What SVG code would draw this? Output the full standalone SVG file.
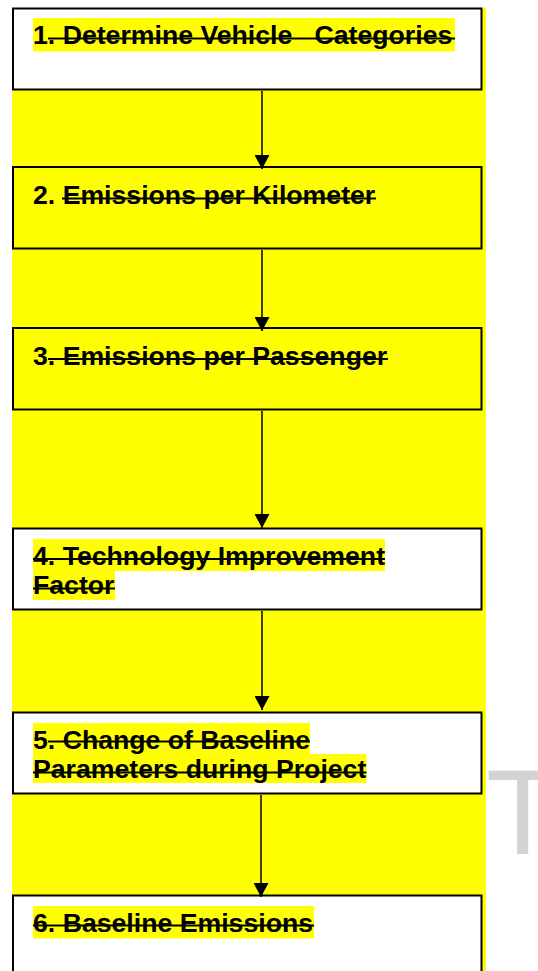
<svg xmlns="http://www.w3.org/2000/svg" width="538" height="971" viewBox="0 0 538 971">
<style>
.box{stroke:#000;stroke-width:2}
.w{fill:#fff}
.y{fill:#ffff00}
.hl{fill:#ffff00}
.t{font-family:"Liberation Sans",Arial,sans-serif;font-weight:bold;font-size:26.67px;fill:#000;white-space:pre}
.st{stroke:#000;stroke-width:2}
.c{stroke:#000;stroke-width:1.5;fill:none;marker-end:url(#ah)}
.wm{font-family:"Liberation Sans",Arial,sans-serif;font-size:120px;fill:#d3d3d3}
</style>
<defs>
<marker id="ah" markerUnits="userSpaceOnUse" markerWidth="14" markerHeight="15" viewBox="0 0 14 15" refX="14" refY="7.5" orient="auto">
<path d="M0,0 L14,7.5 L0,15 Z" fill="#000"/>
</marker>
</defs>
<rect width="538" height="971" fill="#fff"/>
<rect x="12" y="8" width="474" height="963" fill="#ffff00"/>
<text class="wm" x="486" y="854">T</text>
<g id="node1">
<rect class="box w" x="13" y="8.5" width="468.5" height="81"/>
<rect class="hl" x="33" y="18" width="422" height="33.5"/>
<text class="t" x="33" y="44.2">1. Determine Vehicle   Categories</text>
<line class="st" x1="48" y1="38.5" x2="455" y2="38.5"/>
</g>
<g id="node2">
<rect class="box y" x="13" y="167" width="468.5" height="81.5"/>
<text class="t" x="33" y="204">2. Emissions per Kilometer</text>
<line class="st" x1="62" y1="198.5" x2="376" y2="198.5"/>
</g>
<g id="node3">
<rect class="box y" x="13" y="328" width="468.5" height="81.5"/>
<text class="t" x="33" y="364.5">3. Emissions per Passenger</text>
<line class="st" x1="48" y1="359" x2="388" y2="359"/>
</g>
<g id="node4">
<rect class="box w" x="13" y="528.5" width="468.5" height="81"/>
<rect class="hl" x="33" y="539" width="352" height="32"/>
<rect class="hl" x="33" y="571" width="82" height="29"/>
<text class="t" x="33" y="565">4. Technology Improvement</text>
<text class="t" x="33" y="594">Factor</text>
<line class="st" x1="33" y1="559" x2="385" y2="559"/>
<line class="st" x1="33" y1="588.5" x2="115" y2="588.5"/>
</g>
<g id="node5">
<rect class="box w" x="13" y="712.5" width="468.5" height="81"/>
<rect class="hl" x="33" y="723" width="277" height="31"/>
<rect class="hl" x="33" y="754" width="333.5" height="29"/>
<text class="t" x="33" y="748.5">5. Change of Baseline</text>
<text class="t" x="33" y="778">Parameters during Project</text>
<line class="st" x1="48" y1="741.5" x2="310" y2="741.5"/>
<line class="st" x1="33" y1="772.5" x2="366.5" y2="772.5"/>
</g>
<g id="node6">
<rect class="box w" x="13" y="895.5" width="468.5" height="100"/>
<rect class="hl" x="33" y="906" width="281" height="32.5"/>
<text class="t" x="33" y="932">6. Baseline Emissions</text>
<line class="st" x1="33" y1="925.5" x2="314" y2="925.5"/>
</g>
<g id="connectors">
<line class="c" x1="262" y1="91" x2="262" y2="169"/>
<line class="c" x1="262" y1="250" x2="262" y2="331"/>
<line class="c" x1="262" y1="411" x2="262" y2="528"/>
<line class="c" x1="262" y1="611" x2="262" y2="710"/>
<line class="c" x1="261" y1="795" x2="261" y2="897"/>
</g>
</svg>
